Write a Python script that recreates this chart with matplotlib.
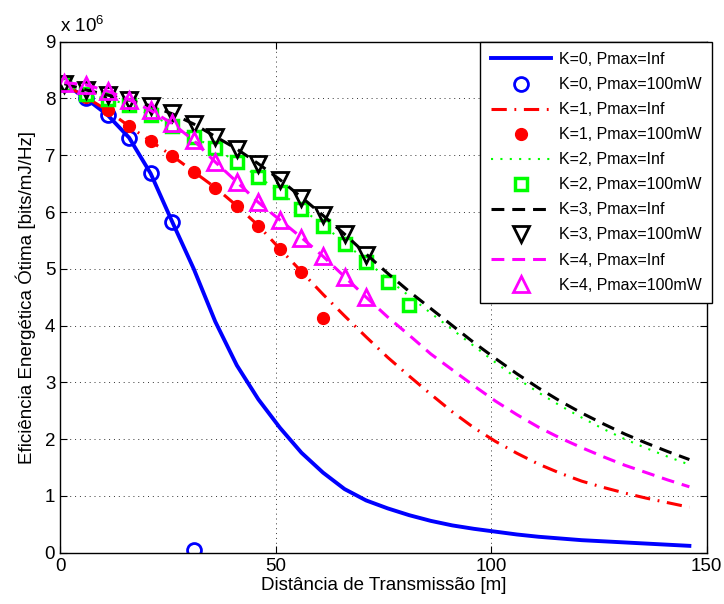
import matplotlib
matplotlib.use("Agg")
import matplotlib.pyplot as plt

plt.rcParams['font.family'] = ['Liberation Sans', 'DejaVu Sans']
plt.rcParams['mathtext.fontset'] = 'custom'
plt.rcParams['mathtext.rm'] = 'Liberation Sans'
plt.rcParams['mathtext.default'] = 'regular'

# distancia [m]
dist = [1, 6, 11, 16, 21, 26, 31, 36, 41, 46, 51, 56, 61, 66, 71,
        76, 81, 86, 91, 96, 101, 106, 111, 116, 121, 126, 131, 136, 141, 146]

# eficiencia (x 10^6), Pmax = Inf
k0_inf = [8.26, 8.00, 7.71, 7.31, 6.68, 5.83, 5.00, 4.07, 3.30, 2.70, 2.20, 1.76, 1.41, 1.12, 0.92,
          0.78, 0.66, 0.56, 0.48, 0.42, 0.37, 0.32, 0.28, 0.25, 0.22, 0.20, 0.18, 0.16, 0.14, 0.12]
k1_inf = [8.25, 8.02, 7.79, 7.51, 7.25, 6.99, 6.71, 6.43, 6.11, 5.76, 5.35, 4.95, 4.55, 4.17, 3.80,
          3.44, 3.11, 2.79, 2.48, 2.20, 1.96, 1.75, 1.56, 1.40, 1.26, 1.15, 1.05, 0.96, 0.88, 0.80]
k2_inf = [8.25, 8.08, 7.99, 7.89, 7.71, 7.52, 7.32, 7.12, 6.88, 6.62, 6.35, 6.06, 5.77, 5.46, 5.14,
          4.82, 4.52, 4.22, 3.93, 3.64, 3.35, 3.07, 2.82, 2.59, 2.38, 2.18, 2.00, 1.84, 1.69, 1.55]
k3_inf = [8.26, 8.15, 8.06, 7.97, 7.87, 7.73, 7.55, 7.33, 7.11, 6.85, 6.57, 6.26, 5.94, 5.61, 5.26,
          4.92, 4.60, 4.30, 4.00, 3.70, 3.42, 3.15, 2.90, 2.67, 2.46, 2.27, 2.09, 1.93, 1.78, 1.64]
k4_inf = [8.28, 8.24, 8.13, 7.98, 7.79, 7.56, 7.26, 6.88, 6.53, 6.17, 5.86, 5.55, 5.22, 4.86, 4.50,
          4.15, 3.83, 3.50, 3.22, 2.94, 2.67, 2.43, 2.21, 2.02, 1.85, 1.69, 1.54, 1.41, 1.28, 1.16]

# eficiencia (x 10^6), Pmax = 100mW (so pontos viaveis)
k0_100 = [8.25, 8.00, 7.71, 7.31, 6.68, 5.83, 0.05]
k1_100 = [8.25, 8.02, 7.79, 7.51, 7.25, 6.99, 6.71, 6.43, 6.11, 5.76, 5.35, 4.95, 4.14]
k2_100 = [8.25, 8.07, 7.99, 7.89, 7.70, 7.51, 7.32, 7.12, 6.88, 6.62, 6.35, 6.05, 5.76, 5.44, 5.12,
          4.77, 4.36]
k3_100 = [8.25, 8.15, 8.06, 7.97, 7.87, 7.74, 7.55, 7.32, 7.11, 6.84, 6.56, 6.25, 5.94, 5.62, 5.24]
k4_100 = [8.28, 8.24, 8.13, 7.98, 7.79, 7.56, 7.26, 6.88, 6.53, 6.17, 5.86, 5.55, 5.22, 4.86, 4.50]

fig = plt.figure(figsize=(7.24, 6.04), dpi=100)
ax = fig.add_axes([0.083, 0.085, 0.893, 0.846])

lw = 2.2
ax.plot(dist, k0_inf, '-', color='b', lw=2.8, label='K=0, Pmax=Inf')
ax.plot(dist[:len(k0_100)], k0_100, 'o', color='b', mfc='none', mew=2, ms=10,
        label='K=0, Pmax=100mW')
ax.plot(dist, k1_inf, color='r', lw=lw, dashes=(5, 2.5, 0.6, 2.5), label='K=1, Pmax=Inf')
ax.plot(dist[:len(k1_100)], k1_100, 'o', color='r', mec='r', ms=8.5, label='K=1, Pmax=100mW')
ax.plot(dist, k2_inf, color='#00ff00', lw=1.5, dashes=(1, 3.5), label='K=2, Pmax=Inf')
ax.plot(dist[:len(k2_100)], k2_100, 's', color='#00ff00', mfc='white', mew=2.5, ms=8,
        label='K=2, Pmax=100mW')
ax.plot(dist, k3_inf, color='k', lw=lw, dashes=(4.2, 2.6), label='K=3, Pmax=Inf')
ax.plot(dist[:len(k3_100)], k3_100, 'v', color='k', mfc='none', mew=2, ms=11.5,
        label='K=3, Pmax=100mW')
ax.plot(dist, k4_inf, color='#ff00ff', lw=lw, dashes=(4.2, 2.6), label='K=4, Pmax=Inf')
ax.plot(dist[:len(k4_100)], k4_100, '^', color='#ff00ff', mfc='none', mew=2, ms=11.5,
        label='K=4, Pmax=100mW')

ax.set_xlim(0, 150)
ax.set_ylim(0, 9)
ax.set_xticks([0, 50, 100, 150])
ax.set_yticks(range(10))
ax.grid(True, color='k', linestyle=(0, (1, 4)), linewidth=0.7, alpha=0.8)
ax.tick_params(direction='in', top=True, right=True, labelsize=13.5, length=5, width=0.8)
for s in ax.spines.values():
    s.set_linewidth(1.0)

ax.set_xlabel('Distância de Transmissão [m]', fontsize=13.5, labelpad=2)
ax.set_ylabel('Eficiência Energética Ótima [bits/mJ/Hz]', fontsize=13.5, labelpad=6)
ax.text(0.0, 1.012, 'x 10$^{6}$', transform=ax.transAxes, fontsize=13.5, ha='left', va='bottom')

leg = ax.legend(loc='upper right', bbox_to_anchor=(1.008, 1.0), fontsize=11.5,
                handlelength=3.75, labelspacing=0.63, borderaxespad=0, fancybox=False,
                framealpha=1, edgecolor='k', handletextpad=0.5, borderpad=0.65)
leg.get_frame().set_linewidth(1.0)

fig.savefig('out.png', dpi=100)
